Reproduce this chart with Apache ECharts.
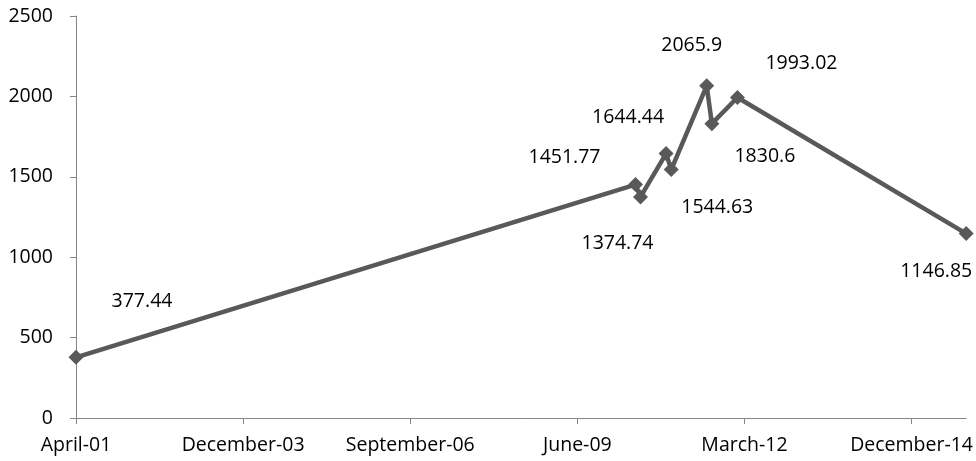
<!DOCTYPE html>
<html>
<head>
<meta charset="utf-8">
<script src="https://cdn.jsdelivr.net/npm/echarts@6/dist/echarts.min.js"></script>
<style>html,body{margin:0;padding:0;background:#fff}#c{width:976px;height:461px}</style>
</head>
<body>
<div id="c"></div>
<script>
// Dates of observations (year, month)
var dates = [[2001,4],[2010,6],[2010,7],[2010,12],[2011,1],[2011,8],[2011,9],[2012,2],[2015,11]];
var values = [377.44,1451.77,1374.74,1644.44,1544.63,2065.9,1830.6,1993.02,1146.85];
var xTickLabels = ['April-01','December-03','September-06','June-09','March-12','December-14'];
var yTicks = [0,500,1000,1500,2000,2500];
// label offsets relative to point (layout only)
var labelOffsets = [[66,-56],[-71,-27],[-23,46],[-38,-36],[46,38],[-15,-40],[53,33],[64,-34],[-30,38]];

var DAY = 86400000;
var t0 = Date.UTC(dates[0][0], dates[0][1]-1, 1);
function dayOffset(d){ return Math.round((Date.UTC(d[0], d[1]-1, 1) - t0)/DAY); }
var xs = dates.map(dayOffset);
var data = values.map(function(v,i){
  return {value:[xs[i], v], label:{offset:labelOffsets[i]}};
});

var chart = echarts.init(document.getElementById('c'));
var font = "'Open Sans', 'Liberation Sans', sans-serif";
chart.setOption({
  animation:false,
  grid:{left:76, right:9, top:16, bottom:43, containLabel:false},
  xAxis:{
    type:'value', min:0, max:xs[xs.length-1], interval:1000,
    axisLine:{show:true, lineStyle:{color:'#868686', width:1}},
    axisTick:{show:true, length:6, lineStyle:{color:'#868686'}},
    splitLine:{show:false},
    axisLabel:{
      color:'#000', fontFamily:font, fontSize:19.5, margin:17, showMaxLabel:false,
      formatter:function(v){ var k=Math.round(v/1000); return (Math.abs(v-k*1000)<1 && xTickLabels[k]) ? xTickLabels[k] : ''; }
    }
  },
  yAxis:{
    type:'value', min:yTicks[0], max:yTicks[yTicks.length-1], interval:500,
    axisLine:{show:true, lineStyle:{color:'#868686', width:1}},
    axisTick:{show:true, length:6, lineStyle:{color:'#868686'}},
    splitLine:{show:false},
    axisLabel:{color:'#000', fontFamily:font, fontSize:19.5, margin:23,
      formatter:function(v){ return String(v); }}
  },
  series:[{
    type:'line', data:data,
    symbol:'diamond', symbolSize:15,
    lineStyle:{color:'#595959', width:4.5},
    itemStyle:{color:'#595959'},
    label:{show:true, position:'inside', color:'#000', fontFamily:font, fontSize:19.5,
      formatter:function(p){ return String(p.value[1]); }}
  }]
});
</script>
</body>
</html>
